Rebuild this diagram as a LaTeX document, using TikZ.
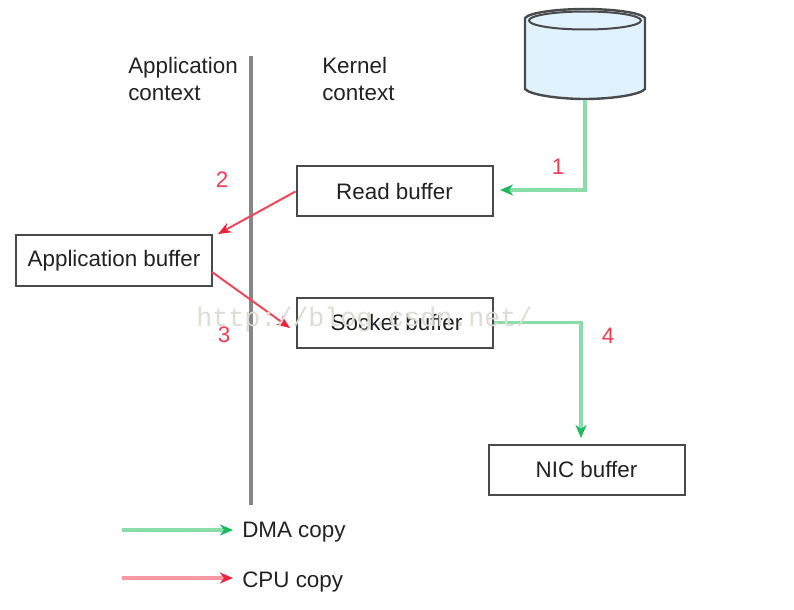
\documentclass[tikz,border=0pt]{standalone}
\usepackage{fontspec}
\setmainfont{Liberation Sans}
\newfontfamily\wmfont{Liberation Mono}
\usetikzlibrary{arrows.meta}
\definecolor{gline}{HTML}{8ADDAA}
\definecolor{gtip}{HTML}{1FB85C}
\definecolor{rline}{HTML}{F04858}
\definecolor{rleg}{HTML}{F79AA3}
\definecolor{rtip}{HTML}{EE2238}
\definecolor{numred}{HTML}{F23C50}
\definecolor{txt}{HTML}{222222}
\definecolor{edge}{HTML}{4A4A4A}
\definecolor{divider}{HTML}{868686}
\definecolor{diskfill}{HTML}{E1F2FF}
\definecolor{wm}{HTML}{DDDDD5}
\tikzset{
  x=0.75pt,y=-0.75pt,
  bufferbox/.style={draw=edge,line width=1.5pt,fill=white,minimum width=147pt,minimum height=37.5pt,inner sep=0pt,text=txt,font=\fontsize{16.8}{19}\selectfont},
  lbl/.style={anchor=west,inner sep=0pt,text=txt,font=\fontsize{16.8}{19}\selectfont},
  ctx/.style={anchor=north west,inner sep=0pt,align=left,text=txt,font=\fontsize{16.8}{20.2}\selectfont},
  num/.style={inner sep=0pt,text=numred,font=\fontsize{16.8}{19}\selectfont},
  dma/.style={color=gline,line width=2.3pt,-{Stealth[length=10pt,width=8.5pt,fill=gtip,line width=0pt]}},
  cpu/.style={color=rline,line width=1.5pt,-{Stealth[length=10pt,width=8pt,fill=rtip,line width=0pt]}},
  cpuleg/.style={color=rleg,line width=2.3pt,-{Stealth[length=10pt,width=8.5pt,fill=rtip,line width=0pt]}},
}
\begin{document}
\begin{tikzpicture}
\useasboundingbox (0,0) rectangle (794,610);
\fill[white] (0,0) rectangle (794,610);
% divider
\coordinate (divT) at (251,56);
\coordinate (divB) at (251,505);
\draw[divider,line width=2.3pt] (divT) -- (divB);
% disk
\draw[edge,line width=1.8pt,fill=diskfill]
  (525,18) -- (525,89) .. controls (530,95) and (560,99) .. (585,99)
  .. controls (610,99) and (640,95) .. (645,89) -- (645,18)
  .. controls (640,12) and (610,9) .. (585,9)
  .. controls (560,9) and (530,12) .. (525,18) -- cycle;
\draw[edge,line width=1.5pt] (585,20.5) ellipse [x radius=56,y radius=9];
\coordinate (diskB) at (585,100);
% boxes
\node[bufferbox] (read) at (394.5,191.5) {Read buffer};
\node[bufferbox] (app) at (114,260.5) {\raisebox{-2pt}{Application buffer}};
\node[bufferbox] (sock) at (394.5,322.5) {\hspace{3pt}Socket buffer};
\node[bufferbox] (nic) at (586.5,469.5) {NIC buffer};
% context labels
\node[ctx] (ctxA) at (128,57) {Application\\context};
\node[ctx] (ctxK) at (322,57) {Kernel\\context};
% free ends
\coordinate (t1) at (500,190);
\coordinate (t2) at (218,234);
\coordinate (t3) at (290,328);
\coordinate (t4) at (581,438);
% connectors
\draw[dma] (diskB) -- (585,190) -- (t1);
\draw[cpu] (read.west) -- (t2);
\draw[cpu] (212,272) -- (t3);
\draw[dma] (sock.east) -- (t4 |- sock.east) -- (t4);
% numbers
\node[num] (n1) at (558,167) {1};
\node[num] (n2) at (222,180) {2};
\node[num] (n3) at (224,335) {3};
\node[num] (n4) at (608,336) {4};
% legend
\node[lbl] (legD) at (242,532) {DMA copy};
\node[lbl] (legC) at (242,582) {CPU copy};
\coordinate (legDs) at (122,530);
\coordinate (legCs) at (122,578);
\coordinate (legDe) at (233,530);
\coordinate (legCe) at (233,578);
\draw[dma] (legDs) -- (legDe);
\draw[cpuleg] (legCs) -- (legCe);
% watermark
\node[anchor=west,inner sep=0pt,text=wm,font=\wmfont\fontsize{20}{22}\selectfont] (wmk) at (196,320) {http://blog.csdn.net/};
\end{tikzpicture}
\end{document}
